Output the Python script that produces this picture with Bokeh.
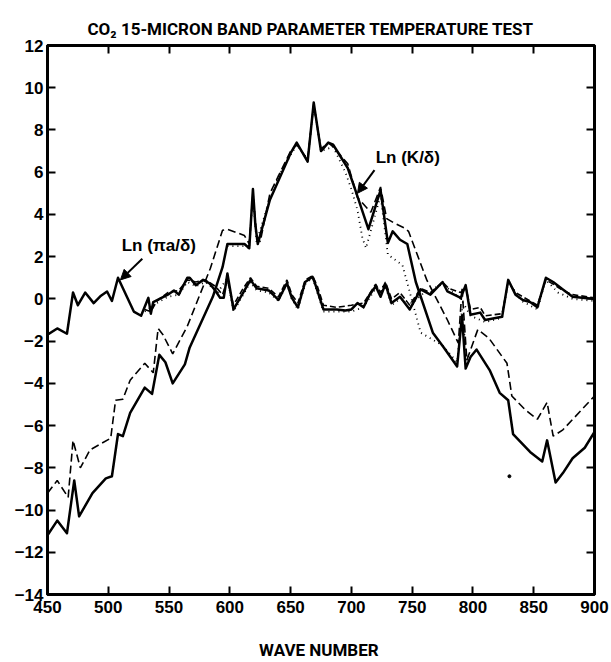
from bokeh.plotting import figure
from bokeh.models import LinearAxis, Arrow, NormalHead, Label, Title, FixedTicker, Range1d
from bokeh.embed import file_html
from bokeh.resources import INLINE

# ---- data ----
k_solid_x = [450, 458, 466, 472, 476, 487, 498, 503, 508, 512, 518, 530, 536, 542, 547, 553, 563, 567,
             586, 594, 598, 612, 616, 619, 621, 623, 633, 650, 655, 664, 669, 675, 681, 685, 697, 703,
             714, 724, 730, 734, 740, 746, 753, 767, 776, 787, 791, 794, 798, 803, 814, 822, 829, 833,
             847, 857, 861, 868, 874, 882, 892, 900]
k_solid_y = [-11.2, -10.5, -11.1, -8.6, -10.3, -9.2, -8.5, -8.4, -6.4, -6.5, -5.4, -4.2, -4.5, -2.65, -3.0,
             -4.0, -3.1, -2.3, 0.1, 1.5, 2.6, 2.6, 2.4, 5.2, 3.5, 2.6, 4.7, 6.9, 7.4, 6.5, 9.3, 7.0, 7.4,
             7.3, 6.2, 5.2, 3.3, 5.15, 2.65, 3.2, 2.8, 2.6, 0.8, -1.6, -2.3, -3.2, -0.8, -3.3, -2.75, -2.4,
             -3.4, -4.45, -4.8, -6.4, -7.25, -7.7, -6.7, -8.7, -8.25, -7.55, -7.05, -6.3]

k_dash_x = [450, 458, 467, 471, 477, 485, 502, 506, 512, 518, 530, 537, 541, 545, 553, 565, 584, 594,
            598, 612, 616, 619, 622, 625, 633, 650, 655, 664, 669, 675, 681, 685, 697, 705, 716, 724,
            729, 735, 744, 747, 762, 779, 788, 791, 795, 804, 813, 828, 832, 843, 853, 861, 866, 874, 900]
k_dash_y = [-9.2, -8.6, -9.4, -6.7, -8.0, -7.15, -6.6, -4.8, -4.75, -3.85, -3.05, -3.5, -1.4, -1.7, -2.6,
            -1.3, 1.45, 3.25, 3.3, 3.0, 2.6, 5.0, 3.0, 2.7, 5.0, 7.0, 7.3, 6.6, 9.2, 7.1, 7.4, 7.2, 6.4,
            4.8, 4.1, 5.3, 3.8, 3.6, 3.35, 3.2, 0.9, -1.0, -2.1, 0.5, -2.9, -1.45, -1.85, -3.05, -4.6,
            -5.25, -5.7, -4.9, -6.5, -6.2, -4.6]

k_dot_x = [598, 612, 616, 619, 622, 630, 640, 650, 655, 664, 669, 675, 685, 695, 700, 705, 709, 712,
           724, 730, 742, 757, 775, 787, 791, 795, 800]
k_dot_y = [2.5, 2.5, 2.4, 5.0, 2.7, 4.2, 5.8, 6.8, 7.3, 6.6, 9.2, 7.0, 7.2, 6.0, 5.2, 4.2, 2.9, 2.4,
           4.9, 2.1, 1.6, -1.6, -2.2, -3.0, -0.5, -3.0, -2.6]

stray_x = [830]
stray_y = [-8.4]

a_solid_x = [450, 458, 466, 471, 475, 481, 488, 494, 499, 503, 508, 521, 527, 533, 535, 537, 549, 554,
             558, 565, 567, 572, 578, 583, 588, 592, 595, 598, 603, 611, 617, 622, 632, 640, 647, 651,
             656, 662, 668, 670, 677, 688, 695, 700, 705, 710, 715, 720, 724, 728, 733, 740, 748, 757,
             765, 775, 779, 790, 794, 798, 806, 810, 824, 829, 835, 841, 847, 853, 860, 866, 874, 882, 900]
a_solid_y = [-1.7, -1.4, -1.65, 0.3, -0.3, 0.3, -0.2, 0.15, 0.35, -0.1, 1.0, -0.6, -0.8, 0.05, -0.7,
             -0.15, 0.2, 0.4, 0.2, 1.0, 1.0, 0.65, 0.9, 0.75, 0.4, 0.05, 0.05, 1.2, -0.5, 0.3, 0.9, 0.5,
             0.4, -0.05, 0.75, 0.05, -0.4, 0.8, 1.05, 0.75, -0.5, -0.5, -0.55, -0.5, -0.2, -0.4, 0.2, 0.6,
             0.1, 0.7, -0.2, 0.1, -0.5, 0.45, 0.2, 0.8, 0.35, 0.05, 0.65, -0.75, -0.65, -1.0, -0.85, 0.9,
             0.2, -0.05, -0.15, -0.4, 1.0, 0.8, 0.45, 0.1, 0.0]

a_dash_x = [530, 535, 540, 549, 558, 565, 572, 580, 588, 594, 598, 603, 611, 617, 622, 632, 640, 647,
            651, 656, 662, 668, 672, 677, 688, 700, 710, 720, 724, 728, 733, 740, 748, 757, 765, 775,
            780, 790, 794, 798, 806, 810, 824, 829, 835, 847, 853, 860, 866, 874, 882, 900]
a_dash_y = [-0.5, -0.6, -0.1, 0.3, 0.4, 0.9, 0.8, 0.9, 0.6, 0.2, 0.9, -0.3, 0.5, 1.0, 0.6, 0.5, 0.1,
            0.9, 0.2, -0.2, 0.9, 1.1, 0.6, -0.3, -0.4, -0.3, -0.2, 0.7, 0.3, 0.8, 0.0, 0.3, -0.3, 0.5,
            0.3, 0.8, 0.5, 0.3, 0.6, -0.5, -0.4, -0.8, -0.7, 0.8, 0.3, -0.1, -0.3, 0.9, 0.7, 0.4, 0.2,
            0.05]

a_dot_x = [530, 540, 549, 558, 565, 572, 580, 590, 598, 603, 611, 617, 622, 632, 640, 647, 651, 656,
           662, 668, 677, 688, 700, 710, 720, 728, 733, 740, 750, 760, 775, 790, 798, 810, 824, 829,
           840, 853, 860, 870, 882, 900]
a_dot_y = [-0.6, -0.2, 0.1, 0.2, 0.8, 0.6, 0.8, 0.3, 1.0, -0.6, 0.2, 0.8, 0.4, 0.3, -0.1, 0.7, 0.0,
           -0.5, 0.7, 1.0, -0.6, -0.6, -0.6, -0.4, 0.5, 0.6, -0.3, 0.0, -0.2, 0.3, 0.7, 0.0, -0.8, -1.1,
           -0.9, 0.8, -0.1, -0.5, 0.9, 0.3, 0.0, -0.1]

x_ticks = [450, 500, 550, 600, 650, 700, 750, 800, 850, 900]
y_ticks = [-14, -12, -10, -8, -6, -4, -2, 0, 2, 4, 6, 8, 10, 12]

TITLE = "CO\u2082 15-MICRON BAND PARAMETER TEMPERATURE TEST"
XLABEL = "WAVE  NUMBER"
LBL_A = "Ln (\u03c0a/\u03b4)"
LBL_K = "Ln (K/\u03b4)"

# ---- figure ----
p = figure(width=611, height=662, output_backend="svg", toolbar_location=None,
           x_range=Range1d(450, 900), y_range=Range1d(-14, 12),
           min_border_left=47, min_border_right=17, min_border_top=45, min_border_bottom=68,
           title=None)
p.grid.visible = False
p.outline_line_color = "black"
p.outline_line_width = 3
p.background_fill_color = "white"
p.border_fill_color = "white"

head_font = "Roboto"

xa = p.xaxis[0]
xa.ticker = FixedTicker(ticks=x_ticks)
ya = p.yaxis[0]
ya.ticker = FixedTicker(ticks=y_ticks)
for ax in (xa, ya):
    ax.axis_line_width = 3
    ax.major_tick_in = 8
    ax.major_tick_out = 0
    ax.major_tick_line_width = 2
    ax.minor_tick_line_color = None
    ax.major_label_text_font = "Liberation Sans"
    ax.major_label_text_font_style = "bold"
    ax.major_label_text_font_size = "17px"
    ax.major_label_text_color = "black"
xa.major_label_standoff = 6
ya.major_label_standoff = 4
xa.axis_label = XLABEL
xa.axis_label_text_font = head_font
xa.axis_label_text_font_style = "bold"
xa.axis_label_text_font_size = "17px"
xa.axis_label_text_color = "black"
xa.axis_label_standoff = 24

# mirrored tick axes on top and right (added before the title so they hug the frame)
top = LinearAxis(ticker=FixedTicker(ticks=x_ticks))
right = LinearAxis(ticker=FixedTicker(ticks=y_ticks))
for ax in (top, right):
    ax.axis_line_width = 3
    ax.major_tick_in = 8
    ax.major_tick_out = 0
    ax.major_tick_line_width = 2
    ax.minor_tick_line_color = None
    ax.major_label_standoff = 0
    ax.major_label_text_font_size = "0px"
    ax.major_label_text_color = None
p.add_layout(top, "above")
p.add_layout(right, "right")

t = Title(text=TITLE, align="left", offset=40, text_font=head_font, text_font_style="bold",
          text_font_size="17px", text_color="black", standoff=10, vertical_align="top")
p.add_layout(t, "above")

# ---- curves ----
p.line(k_solid_x, k_solid_y, line_color="black", line_width=2.5, line_join="round")
p.line(k_dash_x, k_dash_y, line_color="black", line_width=1.6, line_dash="8 4")
p.line(k_dot_x, k_dot_y, line_color="black", line_width=1.8, line_dash="1 4")
p.line(a_solid_x, a_solid_y, line_color="black", line_width=2.5, line_join="round")
p.line(a_dash_x, a_dash_y, line_color="black", line_width=1.6, line_dash="6 3")
p.line(a_dot_x, a_dot_y, line_color="black", line_width=1.8, line_dash="1 4")
p.scatter(stray_x, stray_y, size=3, color="black")

# ---- annotations ----
lab_font = "Liberation Sans"
p.add_layout(Label(x=511, y=2.55, text=LBL_A, text_font=lab_font, text_font_style="bold",
                   text_font_size="17px", text_color="black", text_baseline="middle", text_align="left"))
p.add_layout(Label(x=720, y=6.7, text=LBL_K, text_font=lab_font, text_font_style="bold",
                   text_font_size="17px", text_color="black", text_baseline="middle", text_align="left"))
p.add_layout(Arrow(x_start=528, y_start=1.9, x_end=510, y_end=0.9, line_width=2,
                   end=NormalHead(size=10, fill_color="black", line_color="black")))
p.add_layout(Arrow(x_start=719, y_start=6.1, x_end=705, y_end=5.0, line_width=2,
                   end=NormalHead(size=10, fill_color="black", line_color="black")))

open("out.html", "w").write(file_html(p, INLINE))
